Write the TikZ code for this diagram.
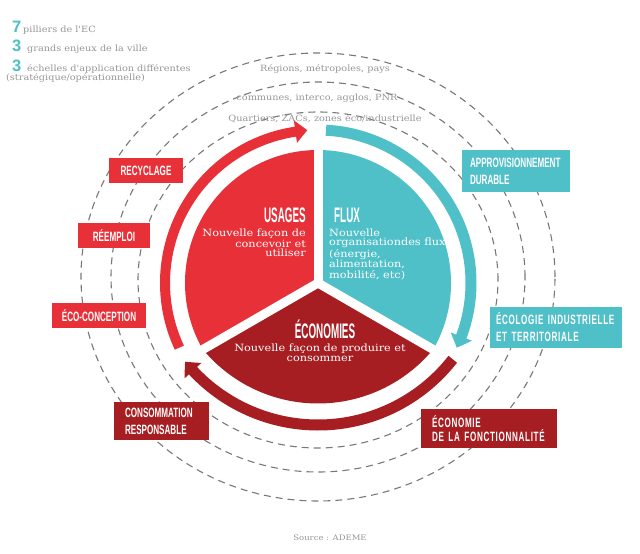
\documentclass[tikz,border=0pt]{standalone}
\usepackage{fontspec}
\usetikzlibrary{arrows.meta,bending}
\newfontfamily\slabfont[FakeStretch=1.13]{DejaVu Serif}
\newfontfamily\titlefont[FakeStretch=0.47]{Liberation Sans}
\newfontfamily\boxfont[FakeStretch=0.6]{Liberation Sans}
\newfontfamily\wideboxfont[FakeStretch=0.6,LetterSpace=5]{Liberation Sans}
\newfontfamily\numfont{Liberation Sans}
\definecolor{cred}{RGB}{232,48,56}
\definecolor{cteal}{RGB}{80,192,200}
\definecolor{cdark}{RGB}{166,29,34}
\definecolor{cdash}{RGB}{120,120,120}
\definecolor{cgreytext}{RGB}{150,150,150}
\tikzset{
  dashring/.style={draw=cdash, line width=1.1pt, dash pattern=on 7pt off 5pt},
  ringarrow/.style={line width=#1, -{Triangle[length=12pt,width=22pt,bend]}},
  separator/.style={draw=white, line width=9pt, line cap=round},
  boxlbl/.style={fill=#1, text=white, font=\boxfont\bfseries\fontsize{13.5}{17}\selectfont, inner sep=0pt},
  greytext/.style={text=cgreytext, font=\slabfont\fontsize{8.6}{9}\selectfont, inner sep=0pt},
  numtext/.style={text=cteal, font=\numfont\bfseries\fontsize{16.5}{17}\selectfont, inner sep=0pt},
  pietitle/.style={text=white, font=\titlefont\bfseries\fontsize{21}{21}\selectfont, inner sep=0pt},
  piebody/.style={text=white, font=\slabfont\fontsize{10}{9}\selectfont, inner sep=0pt},
}
\begin{document}
\begin{tikzpicture}[x=1pt,y=1pt]
\path[use as bounding box, fill=white] (0,0) rectangle (640,-554);
\coordinate (C) at (318,-283);
\coordinate (D) at (318,-254);

% dashed scale rings
\draw[dashring] (318,-280) ellipse [x radius=180, y radius=168];
\draw[dashring] (318,-277) ellipse [x radius=207, y radius=195];
\draw[dashring] (318,-277) ellipse [x radius=237, y radius=224];

% pie slices
\fill[cred] (C) -- ++(90:133) arc[start angle=90, end angle=210, radius=133] -- cycle;
\fill[cteal] (C) -- ++(-30:133) arc[start angle=-30, end angle=90, radius=133] -- cycle;
\fill[cdark] (C) -- ([shift={(219.7:149.5)}]D) arc[start angle=219.7, end angle=320.3, radius=149.5] -- cycle;
\draw[separator] (C) -- ++(90:140);
\draw[separator] (C) -- ++(210:140);
\draw[separator] (C) -- ++(330:140);

% cycle arrows
\draw[cred, ringarrow=10pt] ([shift={(205:153)}]C) arc[start angle=205, end angle=94, radius=153];
\draw[cteal, ringarrow=11pt] ([shift={(87:153)}]C) arc[start angle=87, end angle=-25, radius=153];
\draw[cdark, ringarrow=11pt] ([shift={(-38:171)}]D) arc[start angle=-38, end angle=-141, radius=171];

% top-left legend
\node[numtext, anchor=base west] (n7) at (12,-32) {7};
\node[greytext, anchor=base west] (t7) at (23,-32) {pilliers de l'EC};
\node[numtext, anchor=base west] (n3a) at (12,-51) {3};
\node[greytext, anchor=base west] (t3a) at (27,-51) {grands enjeux de la ville};
\node[numtext, anchor=base west] (n3b) at (12,-71) {3};
\node[greytext, anchor=base west] (t3b) at (27,-71.5) {échelles d'application différentes};
\node[greytext, anchor=base west] (t3c) at (6,-80.5) {(stratégique/opérationnelle)};

% scale labels
\node[greytext] (lreg) at (325,-69) {Régions, métropoles, pays};
\node[greytext] (lcom) at (317,-98) {communes, interco, agglos, PNR};
\node[greytext] (lqua) at (325,-119) {Quartiers, ZACs, zones éco/industrielle};

% pie texts
\node[pietitle, anchor=base east] (usages) at (306,-222) {USAGES};
\node[pietitle, anchor=base west] (flux) at (334,-222) {FLUX};
\node[pietitle, anchor=base] (eco) at (325,-338) {ÉCONOMIES};
\node[piebody, anchor=north east, align=right] (usagesT) at (306,-229) {Nouvelle façon de\\concevoir et\\utiliser};
\node[piebody, anchor=north west, align=left] (fluxT) at (329,-229) {Nouvelle\\organisationdes flux\\(énergie,\\alimentation,\\mobilité, etc)};
\node[piebody, anchor=north, align=center, font=\slabfont\fontsize{10}{10}\selectfont] (ecoT) at (320,-344) {Nouvelle façon de produire et\\consommer};

% label boxes
\node[boxlbl=cred, minimum width=74pt, minimum height=25pt] (recy) at (146,-170.5) {RECYCLAGE};
\node[boxlbl=cred, minimum width=72pt, minimum height=25pt] (reem) at (114,-235.5) {RÉEMPLOI};
\node[boxlbl=cred, minimum width=94pt, minimum height=25pt] (ecoc) at (99,-315.5) {ÉCO-CONCEPTION};
\node[boxlbl=cteal, text width=92pt, inner xsep=8pt, minimum height=42pt, align=left] (appro) at (516,-171) {APPROVISIONNEMENT\\DURABLE};
\node[boxlbl=cteal, text width=120pt, inner xsep=6pt, minimum height=41pt, align=left, font=\wideboxfont\bfseries\fontsize{13.5}{17}\selectfont] (ecol) at (556,-327.5) {\mbox{ÉCOLOGIE INDUSTRIELLE}\\ET TERRITORIALE};
\node[boxlbl=cdark, text width=73pt, inner xsep=11pt, minimum height=38pt, align=left] (cons) at (161.5,-421) {CONSOMMATION\\RESPONSABLE};
\node[boxlbl=cdark, text width=114pt, inner xsep=11pt, minimum height=39pt, align=left, font=\wideboxfont\bfseries\fontsize{13.5}{14.5}\selectfont] (fonc) at (489,-428.5) {ÉCONOMIE\\DE LA FONCTIONNALITÉ};

% source
\node[greytext, font=\slabfont\fontsize{7.5}{8}\selectfont] (src) at (330,-538) {Source : ADEME};
\end{tikzpicture}
\end{document}
